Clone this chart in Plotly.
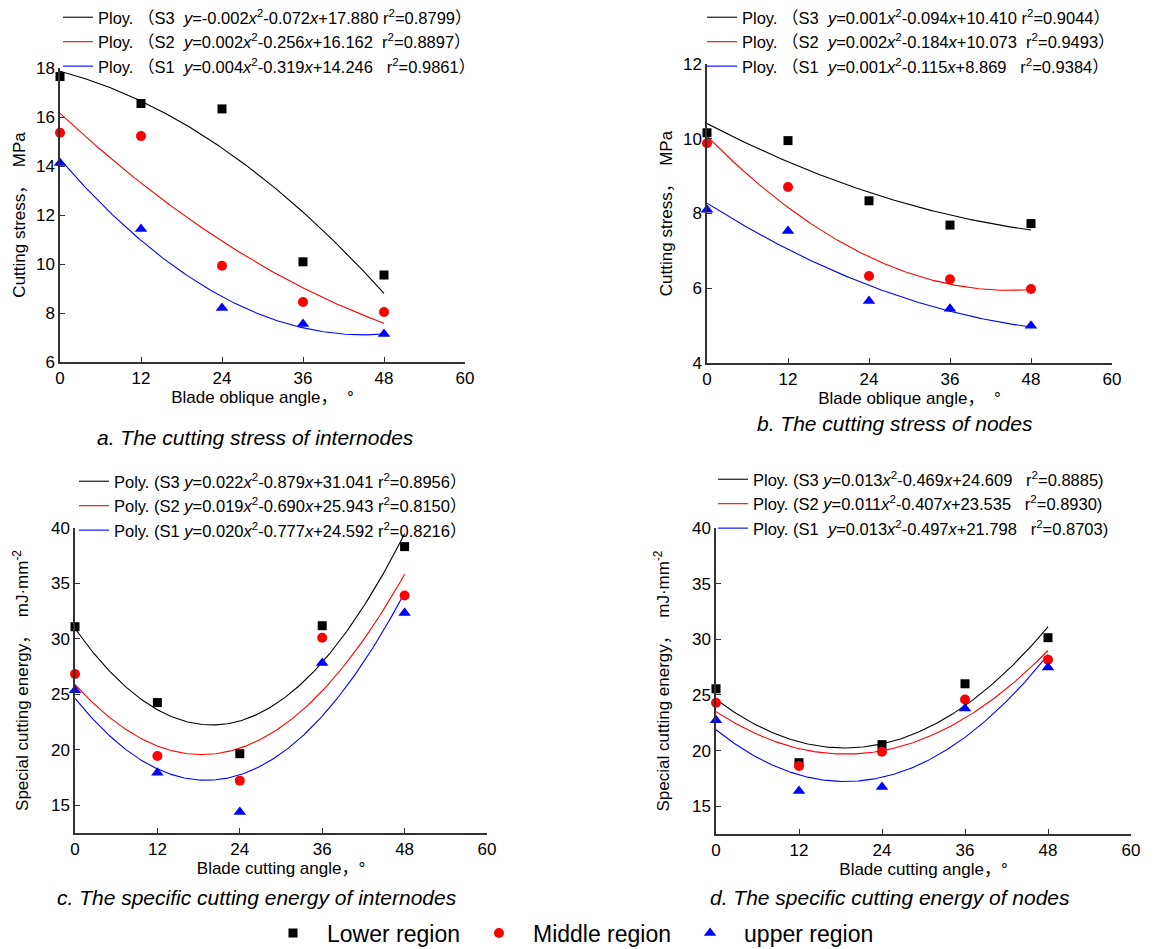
import numpy as np
import plotly.graph_objects as go

W, H = 1155, 949
angles = [0, 12, 24, 36, 48]

# a. cutting stress of internodes (MPa)
a_lower = [17.65, 16.55, 16.33, 10.09, 9.55]
a_middle = [15.36, 15.22, 9.93, 8.45, 8.04]
a_upper = [14.12, 11.43, 8.20, 7.55, 7.14]
# b. cutting stress of nodes (MPa)
b_lower = [10.16, 9.95, 8.34, 7.69, 7.73]
b_middle = [9.88, 8.71, 6.33, 6.24, 5.98]
b_upper = [8.10, 7.53, 5.66, 5.45, 5.00]
# c. specific cutting energy of internodes
c_lower = [31.1, 24.26, 19.65, 31.19, 38.32]
c_middle = [26.84, 19.44, 17.22, 30.11, 33.91]
c_upper = [25.37, 17.94, 14.4, 27.83, 32.33]
# d. specific cutting energy of nodes
d_lower = [25.55, 18.91, 20.53, 26.0, 30.14]
d_middle = [24.29, 18.61, 19.9, 24.59, 28.17]
d_upper = [22.73, 16.37, 16.73, 23.78, 27.46]

sp = "\u00a0"
a_labels = [
    f"Ploy. （S3{sp}{sp}<i>y</i>=-0.002<i>x</i><sup>2</sup>-0.072<i>x</i>+17.880 r<sup>2</sup>=0.8799）",
    f"Ploy. （S2{sp}{sp}<i>y</i>=0.002<i>x</i><sup>2</sup>-0.256<i>x</i>+16.162{sp}{sp}r<sup>2</sup>=0.8897）",
    f"Ploy. （S1{sp}{sp}<i>y</i>=0.004<i>x</i><sup>2</sup>-0.319<i>x</i>+14.246{sp}{sp}{sp}r<sup>2</sup>=0.9861）",
]
b_labels = [
    f"Ploy. （S3{sp}{sp}<i>y</i>=0.001<i>x</i><sup>2</sup>-0.094<i>x</i>+10.410 r<sup>2</sup>=0.9044）",
    f"Ploy. （S2{sp}{sp}<i>y</i>=0.002<i>x</i><sup>2</sup>-0.184<i>x</i>+10.073{sp}{sp}r<sup>2</sup>=0.9493）",
    f"Ploy. （S1{sp}{sp}<i>y</i>=0.001<i>x</i><sup>2</sup>-0.115<i>x</i>+8.869{sp}{sp}{sp}r<sup>2</sup>=0.9384）",
]
c_labels = [
    "Poly. (S3 <i>y</i>=0.022<i>x</i><sup>2</sup>-0.879<i>x</i>+31.041 r<sup>2</sup>=0.8956）",
    "Poly. (S2 <i>y</i>=0.019<i>x</i><sup>2</sup>-0.690<i>x</i>+25.943 r<sup>2</sup>=0.8150）",
    "Poly. (S1 <i>y</i>=0.020<i>x</i><sup>2</sup>-0.777<i>x</i>+24.592 r<sup>2</sup>=0.8216）",
]
d_labels = [
    f"Ploy. (S3 <i>y</i>=0.013<i>x</i><sup>2</sup>-0.469<i>x</i>+24.609{sp}{sp}{sp}r<sup>2</sup>=0.8885)",
    f"Ploy. (S2 <i>y</i>=0.011<i>x</i><sup>2</sup>-0.407<i>x</i>+23.535{sp}{sp}{sp}r<sup>2</sup>=0.8930)",
    f"Ploy. (S1{sp}{sp}<i>y</i>=0.013<i>x</i><sup>2</sup>-0.497<i>x</i>+21.798{sp}{sp}{sp}r<sup>2</sup>=0.8703)",
]
region_names = ["Lower region", "Middle region", "upper region"]
subtitles = [
    "a. The cutting stress of internodes",
    "b. The cutting stress of nodes",
    "c. The specific cutting energy of internodes",
    "d. The specific cutting energy of nodes",
]

FONT = "Liberation Sans, Arial, Noto Sans CJK SC, sans-serif"
colors = ["black", "red", "blue"]
symbols = ["square", "circle", "triangle-up"]

fig = go.Figure()

panels = [
    (a_lower, a_middle, a_upper, a_labels, "legend", ""),
    (b_lower, b_middle, b_upper, b_labels, "legend2", "2"),
    (c_lower, c_middle, c_upper, c_labels, "legend3", "3"),
    (d_lower, d_middle, d_upper, d_labels, "legend4", "4"),
]

xfine = np.linspace(0, 48, 200)
for pi, (lo, mi, up, labels, leg, ax) in enumerate(panels):
    series = [lo, mi, up]
    for k in range(3):
        coef = np.polyfit(angles, series[k], 2)
        fig.add_trace(go.Scatter(
            x=xfine, y=np.polyval(coef, xfine), mode="lines",
            line=dict(color=colors[k], width=1.1),
            name=labels[k], legend=leg, showlegend=True,
            xaxis="x" + ax, yaxis="y" + ax, hoverinfo="skip"))
    for k in range(3):
        fig.add_trace(go.Scatter(
            x=angles, y=series[k], mode="markers",
            marker=dict(color=colors[k], symbol=symbols[k], size=9 if k == 0 else (10 if k == 1 else 11)),
            name=region_names[k], legend="legend5", showlegend=(pi == 0),
            cliponaxis=False,
            xaxis="x" + ax, yaxis="y" + ax))

OFF = 8  # page body margin of the html page

def px_x(p):
    return (p - OFF) / W

def px_y(p):
    return 1 - (p - OFF) / H

axis_common = dict(
    showline=True, linecolor="#333333", linewidth=1.5, mirror=False,
    ticks="inside", ticklen=5, tickwidth=1.2, tickcolor="#333333",
    showgrid=False, zeroline=False, automargin=False,
    tickfont=dict(family=FONT, size=17, color="black"),
)

xt = dict(tickmode="array", tickvals=[0, 12, 24, 36, 48, 60], range=[0, 60])
TF = dict(family=FONT, size=17, color="black")

fig.update_layout(
    width=W, height=H, margin=dict(l=0, r=0, t=0, b=0, autoexpand=False),
    paper_bgcolor="white", plot_bgcolor="white",
    font=dict(family=FONT, color="black"),
    xaxis=dict(domain=[px_x(60), px_x(465)], anchor="y", **xt, **axis_common,
               title=dict(text="Blade oblique angle，&nbsp;&nbsp;°", font=TF, standoff=3)),
    yaxis=dict(domain=[px_y(362), px_y(68)], anchor="x", range=[6, 18], dtick=2, **axis_common,
               title=dict(text="Cutting stress，&nbsp;&nbsp;MPa", font=TF, standoff=6)),
    xaxis2=dict(domain=[px_x(707), px_x(1112)], anchor="y2", **xt, **axis_common,
                title=dict(text="Blade oblique angle，&nbsp;&nbsp;°", font=TF, standoff=3)),
    yaxis2=dict(domain=[px_y(363), px_y(64)], anchor="x2", range=[4, 12], dtick=2, **axis_common,
                title=dict(text="Cutting stress，&nbsp;&nbsp;MPa", font=TF, standoff=6)),
    xaxis3=dict(domain=[px_x(75), px_x(487)], anchor="y3", **xt, **axis_common,
                title=dict(text="Blade cutting angle，°", font=TF, standoff=3)),
    yaxis3=dict(domain=[px_y(833), px_y(528)], anchor="x3", range=[12.5, 40],
                tickvals=[15, 20, 25, 30, 35, 40], **axis_common,
                title=dict(text="Special cutting energy，&nbsp;&nbsp;mJ·mm<sup>-2</sup>", font=TF, standoff=18)),
    xaxis4=dict(domain=[px_x(716), px_x(1131)], anchor="y4", **xt, **axis_common,
                title=dict(text="Blade cutting angle，°", font=TF, standoff=3)),
    yaxis4=dict(domain=[px_y(834), px_y(528)], anchor="x4", range=[12.5, 40],
                tickvals=[15, 20, 25, 30, 35, 40], **axis_common,
                title=dict(text="Special cutting energy，&nbsp;&nbsp;mJ·mm<sup>-2</sup>", font=TF, standoff=18)),
)

leg_common = dict(bgcolor="rgba(0,0,0,0)", borderwidth=0, xanchor="left", yanchor="top",
                  font=dict(family=FONT, size=16.5, color="black"), tracegroupgap=0,
                  itemwidth=30, traceorder="normal")
fig.update_layout(
    legend=dict(x=px_x(58), y=px_y(0), **leg_common),
    legend2=dict(x=px_x(702), y=px_y(0), **leg_common),
    legend3=dict(x=px_x(74), y=px_y(464), **leg_common),
    legend4=dict(x=px_x(713), y=px_y(462), **leg_common),
    legend5=dict(orientation="h", x=px_x(569), xanchor="center", y=px_y(933), yanchor="middle",
                 font=dict(family=FONT, size=23, color="black"), itemwidth=58,
                 bgcolor="rgba(0,0,0,0)", traceorder="normal"),
)

sub_pos = [(255, 437), (895, 423), (257, 897), (890, 897)]
for t, (cx, cy) in zip(subtitles, sub_pos):
    fig.add_annotation(text=f"<i>{t}</i>", x=px_x(cx), y=px_y(cy), xref="paper", yref="paper",
                       showarrow=False, font=dict(family=FONT, size=21, color="black"),
                       xanchor="center", yanchor="middle")

fig.write_html("out.html")
